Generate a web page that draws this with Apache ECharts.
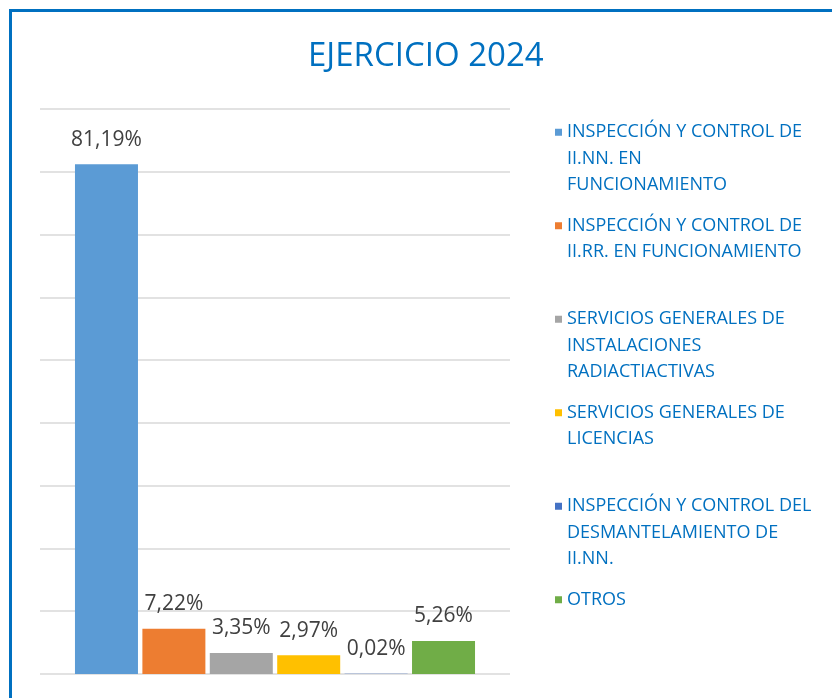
<!DOCTYPE html>
<html>
<head>
<meta charset="utf-8">
<script src="https://cdn.jsdelivr.net/npm/echarts@6/dist/echarts.min.js"></script>
<style>
  html, body { margin: 0; padding: 0; background: #fff; }
  #main { width: 832px; height: 698px; }
</style>
</head>
<body>
<div id="main"></div>
<script>
// partidas del ejercicio 2024 (nombres del Excel, con sus saltos de línea)
var names = [
  'INSPECCIÓN Y CONTROL DE\nII.NN. EN\nFUNCIONAMIENTO',
  'INSPECCIÓN Y CONTROL DE\nII.RR. EN FUNCIONAMIENTO',
  'SERVICIOS GENERALES DE\nINSTALACIONES\nRADIACTIACTIVAS',
  'SERVICIOS GENERALES DE\nLICENCIAS',
  'INSPECCIÓN Y CONTROL DEL\nDESMANTELAMIENTO DE\nII.NN.',
  'OTROS'
];
var values = [81.19, 7.22, 3.35, 2.97, 0.02, 5.26];
var colors = ['#5B9BD5', '#ED7D31', '#A5A5A5', '#FFC000', '#4472C4', '#70AD47'];
var yTicks = [0, 90, 10]; // min, max, interval

var myChart = echarts.init(document.getElementById('main'));

var series = [];
for (var i = 0; i < names.length; i++) {
  series.push({
    name: names[i],
    type: 'bar',
    data: [values[i]],
    barWidth: 63,
    barGap: '7%',
    itemStyle: { color: colors[i] },
    label: {
      show: true,
      position: 'top',
      distance: 14,
      color: '#404040',
      fontFamily: 'Open Sans',
      fontSize: 21,
      formatter: function (p) {
        return p.value.toFixed(2).replace('.', ',') + '%';
      }
    }
  });
}

var option = {
  animation: false,
  backgroundColor: '#fff',
  title: {
    text: 'EJERCICIO 2024',
    left: 308,
    top: 40,
    padding: 0,
    textStyle: {
      color: '#0070C0',
      fontFamily: 'Open Sans',
      fontSize: 33,
      fontWeight: 'normal'
    }
  },
  graphic: [{
    type: 'rect',
    shape: { x: 10.5, y: 10.5, width: 900, height: 800 },
    style: { fill: 'none', stroke: '#0070C0', lineWidth: 3 },
    silent: true
  }],
  legend: {
    orient: 'vertical',
    left: 555,
    top: 119,
    padding: 0,
    itemGap: 14,
    itemWidth: 7,
    itemHeight: 60,
    // cuadrado arriba, el resto transparente para alinear con la primera línea
    icon: 'path://M0,0h7v7h-7z M0,60h7',
    itemStyle: { borderWidth: 0 },
    textStyle: {
      color: '#0070C0',
      fontFamily: 'Open Sans',
      fontSize: 18,
      lineHeight: 26.5
    },
    formatter: function (name) {
      var n = name.split('\n').length;
      while (n < 3) { name += '\n'; n++; }
      return name;
    },
    data: names
  },
  grid: {
    left: 40,
    right: 322,
    top: 109,
    bottom: 24
  },
  xAxis: {
    type: 'category',
    data: [''],
    axisLine: { show: false },
    axisTick: { show: false },
    axisLabel: { show: false }
  },
  yAxis: {
    type: 'value',
    min: yTicks[0],
    max: yTicks[1],
    interval: yTicks[2],
    axisLabel: { show: false },
    axisLine: { show: false },
    axisTick: { show: false },
    splitLine: { lineStyle: { color: '#D9D9D9', width: 1.5 } }
  },
  series: series
};
myChart.setOption(option);
</script>
</body>
</html>
